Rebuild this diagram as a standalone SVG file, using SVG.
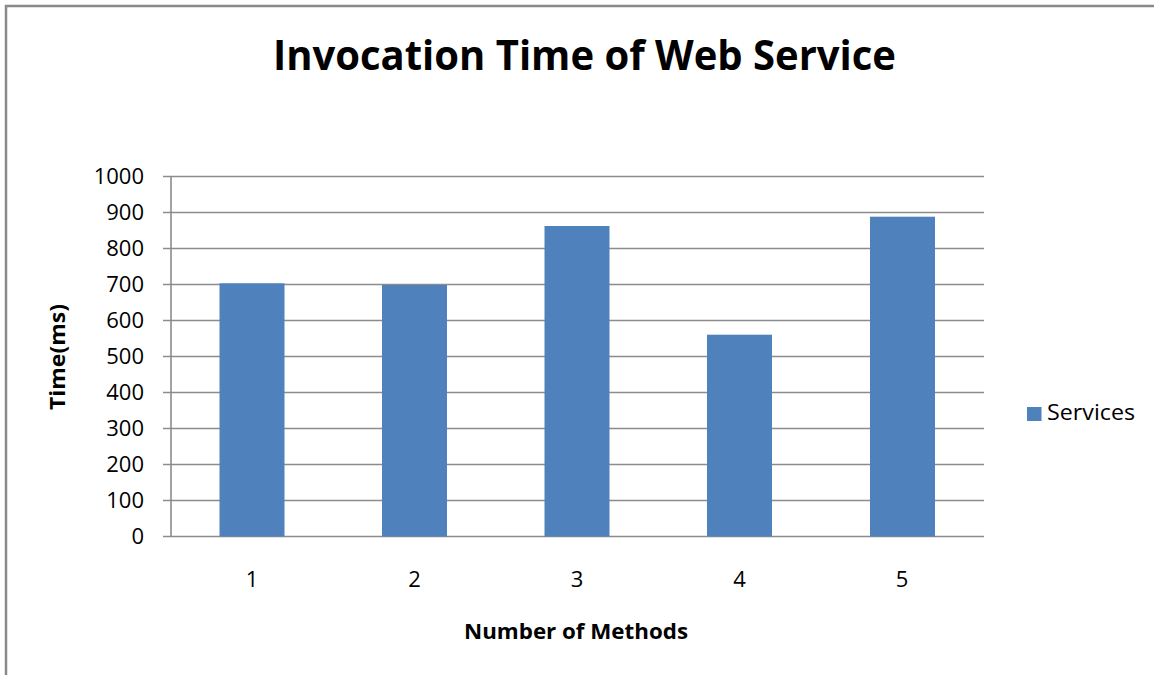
<svg xmlns="http://www.w3.org/2000/svg" width="1154" height="675" viewBox="0 0 1154 675">
  <style>
    text { font-variant-ligatures: none; }
    .grid { stroke: #8c8c8c; stroke-width: 1.6; fill: none; }
    .bar { fill: #4f81bd; }
    .lbl { font-family: "Open Sans", "Liberation Sans", sans-serif; font-size: 22px; fill: #000; }
    .ytick { text-anchor: end; }
    .xtick { text-anchor: middle; }
    .axtitle { font-family: "Open Sans", "Liberation Sans", sans-serif; font-size: 22px; font-weight: bold; fill: #000; }
    .title { font-family: "Open Sans", "Liberation Sans", sans-serif; font-size: 41px; font-weight: bold; fill: #000; }
  </style>
  <rect x="0" y="0" width="1154" height="675" fill="#fff"/>
  <!-- chart frame -->
  <path d="M6,675 V6 H1154" stroke="#8a8a8a" stroke-width="2.5" fill="none"/>

  <text class="title" x="273" y="70" textLength="623" lengthAdjust="spacingAndGlyphs">Invocation Time of Web Service</text>

  <!-- gridlines and value axis -->
  <g id="grid">
    <path class="grid" d="M163,176.5 H984 M163,212.5 H984 M163,248.5 H984 M163,284.5 H984 M163,320.5 H984 M163,356.5 H984 M163,392.5 H984 M163,428.5 H984 M163,464.5 H984 M163,500.5 H984 M163,536.5 H984"/>
    <path class="grid" d="M171,176.5 V536.5"/>
  </g>

  <g id="yticks" class="lbl ytick">
    <text x="144" y="184">1000</text>
    <text x="144" y="220">900</text>
    <text x="144" y="256">800</text>
    <text x="144" y="292">700</text>
    <text x="144" y="328">600</text>
    <text x="144" y="364">500</text>
    <text x="144" y="400">400</text>
    <text x="144" y="436">300</text>
    <text x="144" y="472">200</text>
    <text x="144" y="508">100</text>
    <text x="144" y="544">0</text>
  </g>

  <!-- bars -->
  <g id="bars">
    <rect id="bar1" class="bar" x="219.5" y="283.3" width="65" height="253.2"/>
    <rect id="bar2" class="bar" x="382" y="285" width="65" height="251.5"/>
    <rect id="bar3" class="bar" x="544.5" y="226" width="65" height="310.5"/>
    <rect id="bar4" class="bar" x="707" y="334.7" width="65" height="201.8"/>
    <rect id="bar5" class="bar" x="870" y="216.7" width="65" height="319.8"/>
  </g>

  <g id="xticks" class="lbl xtick">
    <text x="252" y="587">1</text>
    <text x="414.5" y="587">2</text>
    <text x="577" y="587">3</text>
    <text x="739.5" y="587">4</text>
    <text x="902" y="587">5</text>
  </g>

  <text class="axtitle" x="464" y="639" textLength="224" lengthAdjust="spacingAndGlyphs">Number of Methods</text>
  <text class="axtitle" transform="translate(65,410) rotate(-90)" textLength="106" lengthAdjust="spacingAndGlyphs">Time(ms)</text>

  <!-- legend -->
  <g id="legend">
    <rect class="bar" x="1027" y="407" width="14.5" height="14"/>
    <text class="lbl" x="1047" y="420" textLength="88" lengthAdjust="spacingAndGlyphs">Services</text>
  </g>
</svg>
